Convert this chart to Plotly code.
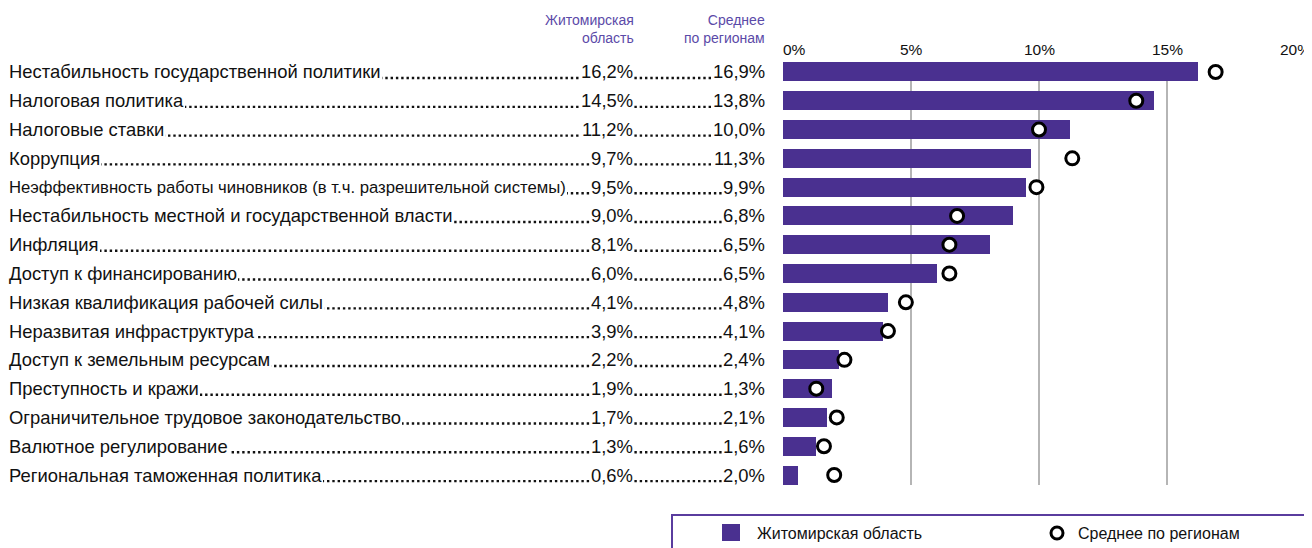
import plotly.graph_objects as go

categories = [
    "Нестабильность государственной политики",
    "Налоговая политика",
    "Налоговые ставки",
    "Коррупция",
    "Неэффективность работы чиновников (в т.ч. разрешительной системы)",
    "Нестабильность местной и государственной власти",
    "Инфляция",
    "Доступ к финансированию",
    "Низкая квалификация рабочей силы",
    "Неразвитая инфраструктура",
    "Доступ к земельным ресурсам",
    "Преступность и кражи",
    "Ограничительное трудовое законодательство",
    "Валютное регулирование",
    "Региональная таможенная политика",
]
zhytomyr = [16.2, 14.5, 11.2, 9.7, 9.5, 9.0, 8.1, 6.0, 4.1, 3.9, 2.2, 1.9, 1.7, 1.3, 0.6]
regional_avg = [16.9, 13.8, 10.0, 11.3, 9.9, 6.8, 6.5, 6.5, 4.8, 4.1, 2.4, 1.3, 2.1, 1.6, 2.0]
tick_vals = [0, 5, 10, 15, 20]
tick_text = ["0%", "5%", "10%", "15%", "20%"]
header_zhyt = "Житомирская<br>область"
header_avg = "Среднее<br>по регионам"
legend_names = ["Житомирская область", "Среднее по регионам"]

# page has an 8px body margin; figure is sized so the plot lands where the reference has it
OFF = 8
W, H = 1304, 540
ML, MR, MT, MB = 774, 16, 54, 63
PLOT_W = W - ML - MR
PLOT_H = H - MT - MB
PX_PER_UNIT = 25.6
x0 = -(783 - OFF - ML) / PX_PER_UNIT
x1 = x0 + PLOT_W / PX_PER_UNIT
n = len(categories)
pad = 0.347
yrange = [n - 1 + pad, -pad]
ROW_PX = PLOT_H / (yrange[0] - yrange[1])

BAR = "#4a3090"
PURPLE_TXT = "#5b4aa8"
BORDER = "#5a3c9e"
FONT = "Liberation Sans, Arial, sans-serif"
ROW_SIZE = 18.4


def px(xp):
    return (xp - OFF - ML) / PLOT_W


def py(yp):
    return (H - MB - (yp - OFF)) / PLOT_H


def fmt(v):
    return f"{v:.1f}%".replace(".", ",")


ys = list(range(n))
fig = go.Figure()
fig.add_trace(go.Bar(x=zhytomyr, y=ys, orientation="h", width=0.66,
                     marker=dict(color=BAR, line=dict(width=0)),
                     name=legend_names[0], showlegend=False, hoverinfo="x"))
fig.add_trace(go.Scatter(x=regional_avg, y=ys, mode="markers",
                         marker=dict(symbol="circle", size=13, color="white",
                                     line=dict(color="black", width=3)),
                         name=legend_names[1], showlegend=False, hoverinfo="x"))

ann = []
shapes = []
font_row = dict(family=FONT, size=ROW_SIZE, color="#111111")
baseline_off = (ROW_SIZE * 0.33) / ROW_PX  # dot leader sits on the text baseline
for i, cat in enumerate(categories):
    # dotted leader line (hidden under the white-backed texts)
    shapes.append(dict(type="line", xref="paper", yref="y", x0=px(9), x1=px(764),
                       y0=i + baseline_off, y1=i + baseline_off, layer="above",
                       line=dict(color="#111111", width=2.4, dash="2.4px,2.9px")))
    lab_size = ROW_SIZE if len(cat) < 55 else 16.7
    ann.append(dict(xref="paper", yref="y", x=px(8), y=i, xanchor="left", yanchor="middle",
                    text=cat, showarrow=False,
                    font=dict(family=FONT, size=lab_size, color="#111111"), bgcolor="white",
                    borderpad=1, borderwidth=0))
    ann.append(dict(xref="paper", yref="y", x=px(634), y=i, xanchor="right", yanchor="middle",
                    text=fmt(zhytomyr[i]), showarrow=False, font=font_row, bgcolor="white",
                    borderpad=1, borderwidth=0))
    ann.append(dict(xref="paper", yref="y", x=px(766), y=i, xanchor="right", yanchor="middle",
                    text=fmt(regional_avg[i]), showarrow=False, font=font_row, bgcolor="white",
                    borderpad=1, borderwidth=0))

font_head = dict(family=FONT, size=14, color=PURPLE_TXT)
ann.append(dict(xref="paper", yref="paper", x=px(634), y=py(29), xanchor="right", yanchor="middle",
                align="right", text=header_zhyt, showarrow=False, font=font_head,
                borderpad=0, borderwidth=0))
ann.append(dict(xref="paper", yref="paper", x=px(765), y=py(29), xanchor="right", yanchor="middle",
                align="right", text=header_avg, showarrow=False, font=font_head,
                borderpad=0, borderwidth=0))

for v, t in zip(tick_vals, tick_text):
    ann.append(dict(xref="x", yref="paper", x=v, y=py(58), xanchor="left" if v == 0 else "center",
                    yanchor="bottom", text=t, showarrow=False,
                    font=dict(family=FONT, size=15.5, color="#111111"),
                    borderpad=0, borderwidth=0))

font_leg = dict(family=FONT, size=16, color="#111111")
ann.append(dict(xref="paper", yref="paper", x=px(757), y=py(533), xanchor="left", yanchor="middle",
                text=legend_names[0], showarrow=False, font=font_leg, borderpad=0, borderwidth=0))
ann.append(dict(xref="paper", yref="paper", x=px(1078), y=py(533), xanchor="left", yanchor="middle",
                text=legend_names[1], showarrow=False, font=font_leg, borderpad=0, borderwidth=0))

shapes += [
    dict(type="rect", xref="paper", yref="paper", x0=px(672), x1=px(1305), y0=py(570), y1=py(515),
         line=dict(color=BORDER, width=2), fillcolor="rgba(0,0,0,0)"),
    dict(type="rect", xref="paper", yref="paper", x0=px(722), x1=px(740), y0=py(541), y1=py(524),
         line=dict(width=0), fillcolor=BAR),
    dict(type="circle", xref="paper", yref="paper", x0=px(1051), x1=px(1063), y0=py(539), y1=py(527),
         line=dict(color="black", width=3), fillcolor="white"),
]

fig.update_layout(
    width=W, height=H, autosize=False,
    margin=dict(l=ML, r=MR, t=MT, b=MB, pad=0),
    paper_bgcolor="white", plot_bgcolor="white",
    showlegend=False, bargap=0,
    font=dict(family=FONT, size=16, color="#111111"),
    xaxis=dict(range=[x0, x1], tickvals=tick_vals, showticklabels=False, showgrid=True,
               gridcolor="#b5b5b5", gridwidth=1.5, zeroline=False, showline=False, ticks="",
               fixedrange=True),
    yaxis=dict(range=yrange, showticklabels=False, showgrid=False, zeroline=False,
               showline=False, ticks="", fixedrange=True),
    annotations=ann,
    shapes=shapes,
)

fig.write_html("out.html")
